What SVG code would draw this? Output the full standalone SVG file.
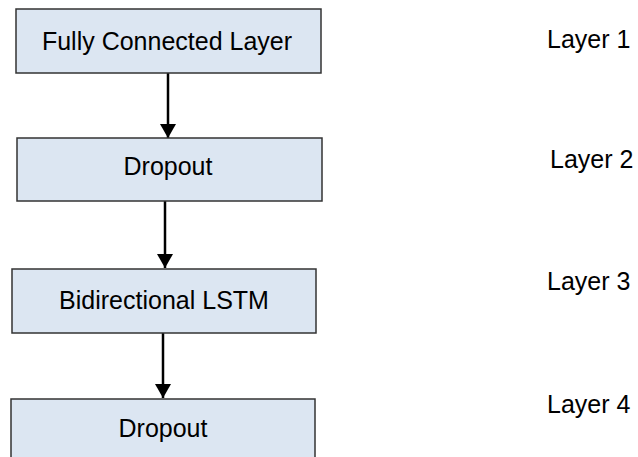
<svg xmlns="http://www.w3.org/2000/svg" width="638" height="457" viewBox="0 0 638 457">
  <style>
    .box { fill: #dce6f2; stroke: #333333; stroke-width: 1.5; }
    .lbl { font-family: "Liberation Sans", Arial, sans-serif; font-size: 25px; fill: #000000; }
    .mid { text-anchor: middle; }
    .edge { stroke: #000000; stroke-width: 2.5; fill: none; }
  </style>
  <defs>
    <marker id="arrow" viewBox="0 0 14 16" refX="14" refY="8" markerWidth="14" markerHeight="16" markerUnits="userSpaceOnUse" orient="auto">
      <path d="M0,0 L14,8 L0,16 Z" fill="#000000"/>
    </marker>
  </defs>
  <rect width="638" height="457" fill="#ffffff"/>

  <g id="connectors">
    <line class="edge" x1="168" y1="73" x2="168" y2="138" marker-end="url(#arrow)"/>
    <line class="edge" x1="165" y1="201" x2="165" y2="268" marker-end="url(#arrow)"/>
    <line class="edge" x1="163" y1="333" x2="163" y2="398" marker-end="url(#arrow)"/>
  </g>

  <g id="fully-connected">
    <rect class="box" x="16" y="9" width="305" height="64"/>
    <text class="lbl mid" x="167" y="50">Fully Connected Layer</text>
  </g>
  <g id="dropout-1">
    <rect class="box" x="17" y="138" width="305" height="63"/>
    <text class="lbl mid" x="168" y="175">Dropout</text>
  </g>
  <g id="bilstm">
    <rect class="box" x="12" y="269" width="304" height="64"/>
    <text class="lbl mid" x="164" y="309">Bidirectional LSTM</text>
  </g>
  <g id="dropout-2">
    <rect class="box" x="11" y="399" width="304" height="70"/>
    <text class="lbl mid" x="163" y="437">Dropout</text>
  </g>

  <g id="layer-labels">
    <text class="lbl" x="547" y="48">Layer 1</text>
    <text class="lbl" x="550" y="168">Layer 2</text>
    <text class="lbl" x="547" y="290">Layer 3</text>
    <text class="lbl" x="547" y="413">Layer 4</text>
  </g>
</svg>
